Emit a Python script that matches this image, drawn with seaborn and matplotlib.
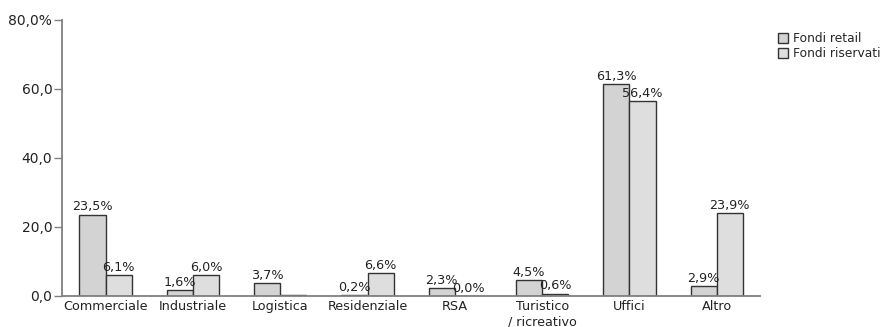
"""
Ripartizione per destinazione d'uso - fondi retail vs riservati
"""

import pandas as pd
import matplotlib
matplotlib.use('Agg')
import matplotlib.pyplot as plt
import seaborn as sns

# Dati
categorie = ['Commerciale', 'Industriale', 'Logistica', 'Residenziale', 'RSA',
             'Turistico\n/ ricreativo', 'Uffici', 'Altro']
fondi_retail = [23.5, 1.6, 3.7, 0.2, 2.3, 4.5, 61.3, 2.9]
fondi_riservati = [6.1, 6.0, 0.3, 6.6, 0.0, 0.6, 56.4, 23.9]
etichette_retail = ['23,5%', '1,6%', '3,7%', '0,2%', '2,3%', '4,5%', '61,3%', '2,9%']
etichette_riservati = ['6,1%', '6,0%', '', '6,6%', '0,0%', '0,6%', '56,4%', '23,9%']
serie = ['Fondi retail', 'Fondi riservati']
yticks = [0, 20, 40, 60, 80]
ytick_labels = ['0,0', '20,0', '40,0', '60,0', '80,0%']

sns.set_style('white')
plt.rcParams['font.family'] = ['DejaVu Sans']
plt.rcParams['font.size'] = 9

df = pd.DataFrame({
    'categoria': categorie * 2,
    'valore': fondi_retail + fondi_riservati,
    'serie': [serie[0]] * len(categorie) + [serie[1]] * len(categorie),
})

fig = plt.figure(figsize=(8.92, 3.27), dpi=100)
ax = fig.add_axes([0.0695, 0.095, 0.783, 0.844])

sns.barplot(data=df, x='categoria', y='valore', hue='serie', hue_order=serie,
            palette=['#d3d3d3', '#dedede'], width=0.6, edgecolor='#333333',
            linewidth=1, ax=ax, legend=True, errorbar=None)

# Etichette sopra le barre
for cont, labs in zip(ax.containers, [etichette_retail, etichette_riservati]):
    ax.bar_label(cont, labels=labs, padding=1, fontsize=9.2, color='#222222')

ax.set_ylim(0, 80)
ax.set_yticks(yticks)
ax.set_yticklabels(ytick_labels, fontsize=10, color='#222222')
ax.set_xlabel('')
ax.set_ylabel('')
ax.tick_params(axis='y', length=6, width=1, color='#808080', left=True, pad=1)
ax.tick_params(axis='x', length=0, labelsize=9.2, pad=3, labelcolor='#222222')
sns.despine(ax=ax)
for s in ['left', 'bottom']:
    ax.spines[s].set_color('#808080')
    ax.spines[s].set_linewidth(1.3)

# Legenda
handles, labels = ax.get_legend_handles_labels()
ax.get_legend().remove()
fig.legend(handles, labels, loc='upper left', bbox_to_anchor=(0.86, 0.935),
           frameon=False, handlelength=0.8, handleheight=0.8, handletextpad=0.4,
           labelspacing=0.15, fontsize=8.8)

plt.savefig('out.png', dpi=100)
plt.close()
